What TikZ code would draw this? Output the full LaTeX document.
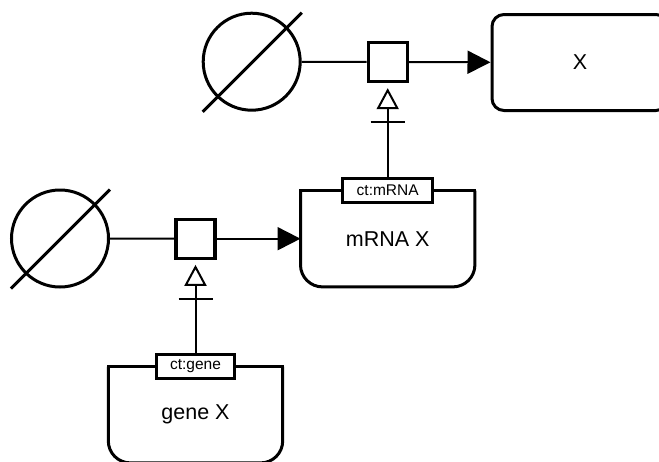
\documentclass[tikz,border=0pt]{standalone}
\usepackage{fontspec}
\setmainfont{Liberation Sans}
\usetikzlibrary{arrows.meta, positioning, calc}

\begin{document}
\begin{tikzpicture}[x=1pt, y=-1pt,
    srcsink/.style={circle, draw, line width=3pt, minimum size=97pt, inner sep=0pt},
    pnode/.style={rectangle, draw, line width=3.3pt, minimum size=39pt, inner sep=0pt},
    macro/.style={rectangle, draw, line width=3pt, rounded corners=12pt, minimum width=176pt,
        minimum height=96pt, font=\fontsize{21.5}{26}\selectfont},
    nafeat/.style={rectangle, minimum width=174pt, minimum height=96pt, inner sep=0pt,
        font=\fontsize{21.5}{26}\selectfont},
    unitinfo/.style={rectangle, draw, fill=white, line width=3pt, inner xsep=14pt, inner ysep=0pt,
        minimum height=23.5pt, font=\fontsize{15.5}{18}\selectfont},
    slash/.style={line width=3pt},
    conn/.style={line width=2pt},
    prod/.style={conn, -{Triangle[length=23pt, width=23pt]}},
    stim/.style={conn, -{Triangle[open, length=21pt, width=22pt]}, shorten >=5pt},
    stimbar/.style={conn, -{Bar[width=34pt]}, shorten >=38pt}
]
    \useasboundingbox (0,0) rectangle (659,461);

    % lower reaction: gene -> mRNA
    \node[srcsink] (src1) at (60,238.5) {};
    \draw[slash] ($(src1.center)+(-49,50)$) -- ($(src1.center)+(50,-49)$);
    \node[pnode] (pn1) at (195.5,238.7) {};
    \node[nafeat] (mrna) at (387.7,238.7) {mRNA X};
    \draw[slash, rounded corners=22pt] (mrna.north west) -- (mrna.south west)
        -- (mrna.south east) -- (mrna.north east);
    \draw[slash, line cap=rect] (mrna.north west) -- (mrna.north east);
    \node[unitinfo] (ctmrna) at (mrna.north) {ct:mRNA};

    \node[nafeat] (gene) at (195.5,414.7) {gene X};
    \draw[slash, rounded corners=22pt] (gene.north west) -- (gene.south west)
        -- (gene.south east) -- (gene.north east);
    \draw[slash, line cap=rect] (gene.north west) -- (gene.north east);
    \node[unitinfo] (ctgene) at (gene.north) {ct:gene};

    \draw[conn] (src1) -- (pn1);
    \draw[prod] (pn1) -- (mrna);
    \draw[stim] (ctgene.north) -- (pn1.south);
    \draw[stimbar] (ctgene.north) -- (pn1.south);

    % upper reaction: mRNA -> X
    \node[srcsink] (src2) at (251.7,61.7) {};
    \draw[slash] ($(src2.center)+(-49,50)$) -- ($(src2.center)+(50,-49)$);
    \node[pnode] (pn2) at (387.7,62) {};
    \node[macro] (x) at (580,62.5) {X};

    \draw[conn] (src2) -- (pn2);
    \draw[prod] (pn2) -- (x);
    \draw[stim] (ctmrna.north) -- (pn2.south);
    \draw[stimbar] (ctmrna.north) -- (pn2.south);
\end{tikzpicture}
\end{document}
